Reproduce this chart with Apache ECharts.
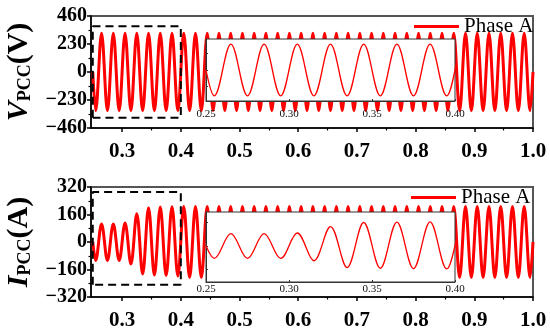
<!DOCTYPE html>
<html>
<head>
<meta charset="utf-8">
<script src="https://cdn.jsdelivr.net/npm/echarts@6/dist/echarts.min.js"></script>
<style>html,body{margin:0;padding:0;background:#fff}#c{width:550px;height:333px}</style>
</head>
<body>
<div id="c"></div>
<script>
// Times of the zero start, every half-cycle extreme, and the end (s)
var T = [0.25,0.255,0.265,0.275,0.285,0.295,0.305,0.315,0.325,0.335,0.345,0.355,0.365,0.375,0.385,0.395,0.405,0.415,0.425,0.435,0.445,0.455,0.465,0.475,0.485,0.495,0.505,0.515,0.525,0.535,0.545,0.555,0.565,0.575,0.585,0.595,0.605,0.615,0.625,0.635,0.645,0.655,0.665,0.675,0.685,0.695,0.705,0.715,0.725,0.735,0.745,0.755,0.765,0.775,0.785,0.795,0.805,0.815,0.825,0.835,0.845,0.855,0.865,0.875,0.885,0.895,0.905,0.915,0.925,0.935,0.945,0.955,0.965,0.975,0.985,0.995,1.0];
// Phase A voltage at those times (V)
var V = [0,-318,318,-318,318,-318,318,-318,318,-318,318,-318,318,-318,318,-318,318,-318,318,-318,318,-318,318,-318,318,-318,318,-318,318,-318,318,-318,318,-318,318,-318,318,-318,318,-318,318,-318,318,-318,318,-318,318,-318,318,-318,318,-318,318,-318,318,-318,318,-318,318,-318,318,-318,318,-318,318,-318,318,-318,318,-318,318,-318,318,-318,318,-318,0];
// Phase A current at those times (A)
var I = [0,-107,105,-107,105,-108,110,-128,165,-186,200,-192,204,-195,205,-198,206,-206,206,-206,206,-206,206,-206,206,-206,206,-206,206,-206,206,-206,206,-206,206,-206,206,-206,206,-206,206,-206,206,-206,206,-206,206,-206,206,-206,206,-206,206,-206,206,-206,206,-206,206,-206,206,-206,206,-206,206,-206,206,-206,206,-206,206,-206,206,-206,206,-206,0];
// Axis ticks
var xMajor = [0.3,0.4,0.5,0.6,0.7,0.8,0.9,1.0];
var xMinor = [0.35,0.45,0.55,0.65,0.75,0.85,0.95];
// Zoom windows (dashed boxes / insets)
var boxT = [0.25,0.40];
var boxV = [-375,375];
var boxI = [-248,291];
var insetVRange = [-380,380];
var insetIRange = [-310,290];

var FF = '"Liberation Serif","Times New Roman",serif';
function pairs(xs, ys){ return xs.map(function(x,i){return [x, ys[i]];}); }
function rect(tx, yy){ return [[tx[0],yy[0]],[tx[0],yy[1]],[tx[1],yy[1]],[tx[1],yy[0]],[tx[0],yy[0]]]; }

var chart = echarts.init(document.getElementById('c'), null, {renderer:'canvas'});

function mainX(gi){
  return [{
    gridIndex: gi, type:'value', min:0.247, max:1.0, position:'bottom',
    axisLine:{show:true, onZero:false, lineStyle:{color:'#000', width:1.5}},
    axisTick:{show:true, inside:false, length:4, customValues:xMajor, lineStyle:{color:'#000', width:1.5}},
    axisLabel:{show:true, customValues:xMajor, margin:13, fontFamily:FF, fontWeight:'bold', fontSize:21, color:'#000',
      formatter:function(v){return v.toFixed(1);}},
    splitLine:{show:false}
  },{
    gridIndex: gi, type:'value', min:0.247, max:1.0, position:'bottom',
    axisLine:{show:false, onZero:false},
    axisTick:{show:true, length:2.5, customValues:xMinor, lineStyle:{color:'#000', width:1.2}},
    axisLabel:{show:false}, splitLine:{show:false}
  }];
}
function mainY(gi, lim, step, nm){
  return {
    gridIndex: gi, type:'value', min:-lim, max:lim, interval:step,
    axisLine:{show:true, onZero:false, lineStyle:{color:'#000', width:1.5}},
    axisTick:{show:true, length:4, lineStyle:{color:'#000', width:1.5}},
    minorTick:{show:true, splitNumber:2, length:2.5, lineStyle:{color:'#000', width:1.2}},
    axisLabel:{margin:4, fontFamily:FF, fontWeight:'bold', fontSize:20, color:'#000',
      formatter:function(v){return v<0?('\u2212'+(-v)):String(v);}},
    splitLine:{show:false},
    name:'{v|'+nm[0]+'}{s|PCC}{p|'+nm[1]+'}', nameLocation:'middle', nameRotate:90, nameGap:56,
    nameTextStyle:{rich:{
      v:{fontFamily:FF, fontStyle:'italic', fontWeight:'bold', fontSize:30, color:'#000'},
      s:{fontFamily:FF, fontWeight:'bold', fontSize:18, color:'#000', verticalAlign:'bottom', lineHeight:18},
      p:{fontFamily:FF, fontWeight:'bold', fontSize:30, color:'#000'}
    }}
  };
}
function insetX(gi, mg){
  return {
    gridIndex: gi, type:'value', min:0.25, max:0.40, interval:0.05, z:11,
    axisLine:{show:true, onZero:false, lineStyle:{color:'#333', width:1}},
    axisTick:{show:true, inside:true, length:2, lineStyle:{color:'#333'}},
    axisLabel:{margin:mg, fontFamily:FF, fontSize:11, color:'#111', formatter:function(v){return v.toFixed(2);}},
    splitLine:{show:false}
  };
}
function insetY(gi, rg){
  return {
    gridIndex: gi, type:'value', min:rg[0], max:rg[1], z:11,
    axisLine:{show:true, onZero:false, lineStyle:{color:'#333', width:1}},
    axisTick:{show:true, inside:true, length:2, customValues:[-200,0,200], lineStyle:{color:'#333'}},
    axisLabel:{show:false}, splitLine:{show:false}
  };
}

var xs = [].concat(mainX(0), mainX(1), [insetX(2, 8), insetX(3, 2)]);

var legendBase = {data:['Phase A'], padding:0, icon:'rect', itemWidth:45, itemHeight:3, itemGap:6,
  textStyle:{fontFamily:FF, fontSize:21, color:'#000'}};

var option = {
  animation:false,
  backgroundColor:'#fff',
  grid:[
    {left:91, top:16, width:442, height:112, outerBoundsMode:'none', containLabel:false, show:true, borderColor:'#555', borderWidth:2, backgroundColor:'transparent'},
    {left:91, top:187, width:442, height:110, outerBoundsMode:'none', containLabel:false, show:true, borderColor:'#555', borderWidth:2, backgroundColor:'transparent'},
    {left:206, top:39, width:249, height:62, outerBoundsMode:'none', containLabel:false, show:true, borderColor:'#333', borderWidth:1, backgroundColor:'#fff', z:10},
    {left:206, top:212, width:249, height:70, outerBoundsMode:'none', containLabel:false, show:true, borderColor:'#333', borderWidth:1, backgroundColor:'#fff', z:10}
  ],
  xAxis: xs,
  yAxis:[
    mainY(0, 460, 230, ['V','(V)']),
    mainY(1, 320, 160, ['I','(A)']),
    insetY(2, insetVRange),
    insetY(3, insetIRange)
  ],
  legend:[
    Object.assign({left:414, top:16}, legendBase),
    Object.assign({left:411, top:187}, legendBase)
  ],
  series:[
    {name:'Phase A', type:'line', xAxisIndex:0, yAxisIndex:0, data:pairs(T,V), smooth:0.36, symbol:'none',
     lineStyle:{color:'#ff0000', width:3}, itemStyle:{color:'#ff0000'}, z:2},
    {name:'Phase A', type:'line', xAxisIndex:2, yAxisIndex:1, data:pairs(T,I), smooth:0.36, symbol:'none',
     lineStyle:{color:'#ff0000', width:3}, itemStyle:{color:'#ff0000'}, z:2},
    {name:'boxV', type:'line', xAxisIndex:0, yAxisIndex:0, data:rect(boxT,boxV), symbol:'none', clip:false,
     lineStyle:{color:'#000', width:2, type:[8,5]}, z:3},
    {name:'boxI', type:'line', xAxisIndex:2, yAxisIndex:1, data:rect(boxT,boxI), symbol:'none', clip:false,
     lineStyle:{color:'#000', width:2, type:[8,5]}, z:3},
    {name:'insetV', type:'line', xAxisIndex:4, yAxisIndex:2, data:pairs(T,V), smooth:0.36, symbol:'none', clip:true,
     lineStyle:{color:'#ff0000', width:1.3}, z:12},
    {name:'insetI', type:'line', xAxisIndex:5, yAxisIndex:3, data:pairs(T,I), smooth:0.36, symbol:'none', clip:true,
     lineStyle:{color:'#ff0000', width:1.3}, z:12}
  ]
};
chart.setOption(option);
</script>
</body>
</html>
